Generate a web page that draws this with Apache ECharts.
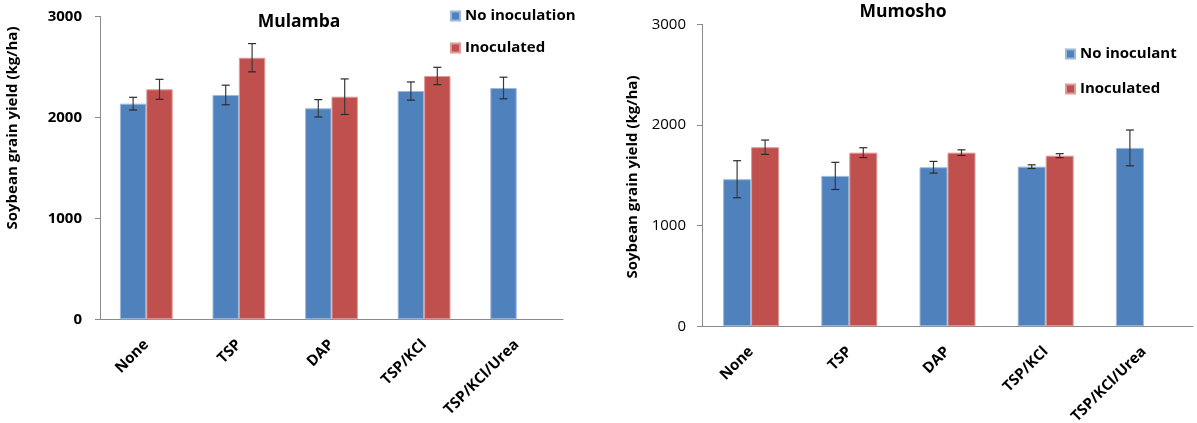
<!DOCTYPE html>
<html>
<head>
<meta charset="utf-8">
<script src="https://cdn.jsdelivr.net/npm/echarts@6/dist/echarts.min.js"></script>
<style>
  html, body { margin: 0; padding: 0; background: #fff; }
  #chart { width: 1197px; height: 423px; }
</style>
</head>
<body>
<div id="chart"></div>
<script>
// ---- data ----
const categories = ['None', 'TSP', 'DAP', 'TSP/KCl', 'TSP/KCl/Urea'];
const yTickValues = [0, 1000, 2000, 3000];

const mulambaNoInoc = [2135, 2221, 2089, 2260, 2290];
const mulambaNoInocErr = [63, 97, 86, 90, 107];
const mulambaInoc = [2277, 2590, 2204, 2409, null];
const mulambaInocErr = [99, 140, 176, 86, null];

const mumoshoNoInoc = [1461, 1494, 1580, 1586, 1772];
const mumoshoNoInocErr = [184, 135, 58, 18, 178];
const mumoshoInoc = [1779, 1725, 1725, 1695, null];
const mumoshoInocErr = [71, 49, 28, 20, null];

// ---- styling ----
const FONT = 'Open Sans';
const BLUE = '#4F81BD';
const RED = '#C0504D';
const AXIS_COLOR = '#8a8a8a';
const GAP = 0.43;

function errData(vals, errs) {
  const out = [];
  vals.forEach((v, i) => {
    if (v != null && errs[i] != null) out.push([i, v - errs[i], v + errs[i]]);
  });
  return out;
}

function errRenderer(slot) {
  return function (params, api) {
    const i = api.value(0);
    const lo = api.value(1), hi = api.value(2);
    const catW = api.size([1, 0])[0];
    const barW = catW * (1 - GAP) / 2;
    const pLo = api.coord([i, lo]);
    const pHi = api.coord([i, hi]);
    const cx = pLo[0] + (slot === 0 ? -barW / 2 : barW / 2);
    const cap = 4;
    const st = { stroke: '#2a2a2a', lineWidth: 1.2 };
    return {
      type: 'group',
      children: [
        { type: 'line', shape: { x1: cx, y1: pHi[1], x2: cx, y2: pLo[1] }, style: { stroke: '#3a3a3a', lineWidth: 1.2 } },
        { type: 'line', shape: { x1: cx - cap, y1: pHi[1], x2: cx + cap, y2: pHi[1] }, style: st },
        { type: 'line', shape: { x1: cx - cap, y1: pLo[1], x2: cx + cap, y2: pLo[1] }, style: st }
      ]
    };
  };
}

function xAxisCfg(gridIndex, margin) {
  return {
    type: 'category', gridIndex, data: categories,
    axisLine: { lineStyle: { color: AXIS_COLOR } },
    axisTick: { length: 5, lineStyle: { color: AXIS_COLOR } },
    axisLabel: {
      rotate: 45, margin, interval: 0,
      fontFamily: FONT, fontWeight: 'bold', fontSize: 15, color: '#000'
    }
  };
}

function yAxisCfg(gridIndex, bold, margin) {
  return {
    type: 'value', gridIndex, min: yTickValues[0], max: yTickValues[yTickValues.length - 1], interval: 1000,
    splitLine: { show: false },
    axisLine: { show: true, lineStyle: { color: AXIS_COLOR } },
    axisTick: { show: true, length: 5, lineStyle: { color: AXIS_COLOR } },
    axisLabel: {
      margin, formatter: (v) => String(v),
      fontFamily: FONT, fontWeight: bold ? 'bold' : 'normal', fontSize: 15, color: '#000'
    }
  };
}

function barSeries(name, data, color, border, xi) {
  return {
    type: 'bar', name, data, xAxisIndex: xi, yAxisIndex: xi,
    barGap: '0%', barCategoryGap: (GAP * 100) + '%',
    itemStyle: { color, borderColor: border, borderWidth: 1 },
    emphasis: { disabled: true }
  };
}

function errSeries(vals, errs, slot, xi) {
  return {
    type: 'custom', xAxisIndex: xi, yAxisIndex: xi, z: 10,
    renderItem: errRenderer(slot),
    data: errData(vals, errs),
    silent: true
  };
}

const chart = echarts.init(document.getElementById('chart'), null, { renderer: 'canvas' });

const option = {
  backgroundColor: '#fff',
  animation: false,
  textStyle: { fontFamily: FONT },
  title: [
    { text: 'Mulamba', left: 294, top: 8, textAlign: 'center',
      textStyle: { fontFamily: FONT, fontWeight: 'bold', fontSize: 17.5, color: '#000' } },
    { text: 'Mumosho', left: 898, top: -2, textAlign: 'center',
      textStyle: { fontFamily: FONT, fontWeight: 'bold', fontSize: 17.5, color: '#000' } }
  ],
  legend: [
    { data: ['No inoculation', 'Inoculated'], orient: 'vertical', left: 450, top: 7,
      icon: 'rect', itemWidth: 9, itemHeight: 9, itemGap: 14, padding: 0,
      textStyle: { fontFamily: FONT, fontWeight: 'bold', fontSize: 15, color: '#000', lineHeight: 18 } },
    { data: ['No inoculant', 'Inoculated'], orient: 'vertical', left: 1065, top: 45,
      icon: 'rect', itemWidth: 9, itemHeight: 9, itemGap: 17, padding: 0,
      textStyle: { fontFamily: FONT, fontWeight: 'bold', fontSize: 15, color: '#000', lineHeight: 18 } }
  ],
  grid: [
    { left: 100, top: 16.3, width: 463, height: 303, containLabel: false, outerBoundsMode: 'none' },
    { left: 702, top: 24.3, width: 491, height: 302, containLabel: false, outerBoundsMode: 'none' }
  ],
  xAxis: [xAxisCfg(0, 23), xAxisCfg(1, 23)],
  yAxis: [yAxisCfg(0, true, 18), yAxisCfg(1, false, 16)],
  graphic: [
    { type: 'text', x: 13, y: 128, rotation: Math.PI / 2,
      style: { text: 'Soybean grain yield (kg/ha)', fontFamily: FONT, fontWeight: 'bold', fontSize: 15,
               fill: '#000', align: 'center', verticalAlign: 'middle' } },
    { type: 'text', x: 633, y: 177, rotation: Math.PI / 2,
      style: { text: 'Soybean grain yield (kg/ha)', fontFamily: FONT, fontWeight: 'bold', fontSize: 15,
               fill: '#000', align: 'center', verticalAlign: 'middle' } }
  ],
  series: [
    barSeries('No inoculation', mulambaNoInoc, BLUE, '#9db8db', 0),
    barSeries('Inoculated', mulambaInoc, RED, '#dc9b99', 0),
    errSeries(mulambaNoInoc, mulambaNoInocErr, 0, 0),
    errSeries(mulambaInoc, mulambaInocErr, 1, 0),
    barSeries('No inoculant', mumoshoNoInoc, BLUE, '#9db8db', 1),
    barSeries('Inoculated', mumoshoInoc, RED, '#dc9b99', 1),
    errSeries(mumoshoNoInoc, mumoshoNoInocErr, 0, 1),
    errSeries(mumoshoInoc, mumoshoInocErr, 1, 1)
  ]
};
chart.setOption(option);
</script>
</body>
</html>
